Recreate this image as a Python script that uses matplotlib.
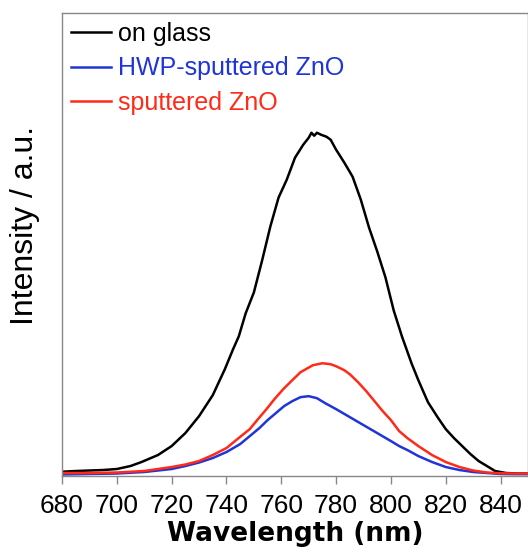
import numpy as np
import matplotlib
matplotlib.use("Agg")
import matplotlib.pyplot as plt

# Emission spectra (wavelength in nm, intensity in a.u.)
glass_wl = [680, 685, 690, 695, 700, 705, 709, 715, 720, 725, 730, 735, 739.4,
            742.4, 744.5, 747, 750, 753, 756, 759, 762, 765, 768, 770, 771, 772,
            773, 774.5, 776.5, 778, 780, 783, 786, 789, 792, 795, 798, 801, 804,
            807.5, 810, 813.5, 817, 820, 823, 826, 829, 832, 835, 838, 842, 846, 850]
glass_int = [3.3, 4, 4.5, 5, 6, 9, 13, 20, 29, 42, 59, 80, 106,
             126, 139, 162, 183, 215, 249, 278, 296, 318, 331, 338, 343, 340,
             343, 341, 339, 336, 326, 313, 299, 276, 248, 224, 198, 165, 139,
             112, 95, 73, 58, 46, 37, 29, 21, 14, 9, 4, 2, 1.5, 1.5]

hwp_wl = [680, 700, 710, 720, 725, 730, 735, 740, 745, 748.5, 752, 755, 758,
          761, 764, 767, 770, 773, 776, 780, 785, 790, 795, 800, 803, 806, 810,
          815, 820, 825, 830, 835, 840, 845, 850]
hwp_int = [0.5, 1.5, 3, 6, 9, 12.5, 17, 23, 31, 39, 47, 55, 62,
           69, 74, 78, 79, 77, 72, 66, 58, 50, 42, 34, 29, 25, 19,
           13, 8, 5, 3, 2, 1, 0.8, 0.8]

sput_wl = [680, 690, 700, 710, 720, 725, 730, 735, 740, 744, 748.5, 751.5,
           754.6, 757.5, 760.7, 764, 767, 771.5, 775, 778, 780, 783, 785, 788,
           791, 794, 797, 800, 803, 806, 810, 815, 820, 825, 830, 835, 840, 845, 850]
sput_int = [2, 2, 2.5, 4, 8, 10.5, 14, 20, 27, 36, 46, 56,
            66, 76, 86, 95, 103, 110, 112, 111, 109, 105, 101, 93,
            84, 74, 64, 55, 44, 37, 29, 20, 13, 8, 4.5, 2.5, 1.7, 1.5, 1.5]

labels = ["on glass", "HWP-sputtered ZnO", "sputtered ZnO"]
colors = ["#000000", "#1f35d8", "#ff2a17"]
xticks = [680, 700, 720, 740, 760, 780, 800, 820, 840]

plt.rcParams['font.family'] = ['Liberation Sans', 'DejaVu Sans']

fig = plt.figure(figsize=(5.28, 5.56), dpi=100)
ax = fig.add_axes([62 / 528, 1 - 476 / 556, 1 - 62 / 528, (476 - 13) / 556])

series = [(glass_wl, glass_int), (hwp_wl, hwp_int), (sput_wl, sput_int)]
for (wl, inten), lab, col in zip(series, labels, colors):
    ax.plot(wl, inten, color=col, linewidth=1.8, label=lab)

ax.set_xlim(680, 850)
ax.set_ylim(-1, 463)
ax.set_xticks(xticks)
ax.set_yticks([])
ax.tick_params(axis='x', direction='out', length=6, width=1.0,
               color='#888888', labelsize=19, pad=7)
for sp in ax.spines.values():
    sp.set_color('#888888')
    sp.set_linewidth(1.0)

ax.set_xlabel("Wavelength (nm)", fontsize=19, fontweight='bold',
              family='DejaVu Sans', labelpad=2)
ax.set_ylabel("Intensity / a.u.", fontsize=23)
ax.yaxis.set_label_coords(-0.048, 0.54)

leg = ax.legend(loc='upper left', frameon=False, fontsize=18,
                handlelength=1.6, handletextpad=0.3, labelspacing=0.42,
                borderaxespad=0.1, borderpad=0.25)
for txt, col in zip(leg.get_texts(), colors):
    txt.set_color(col)

fig.savefig("out.png", dpi=100)
